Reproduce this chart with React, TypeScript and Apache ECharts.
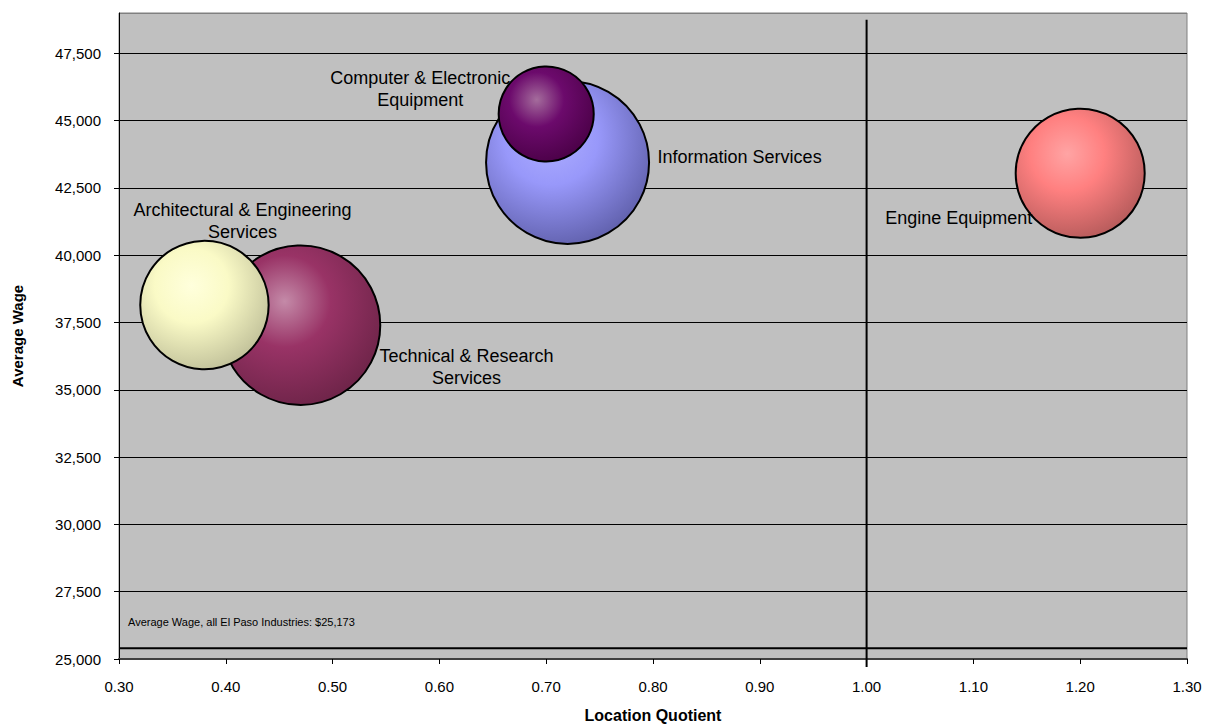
import React, { useEffect, useRef } from "react";
import * as echarts from "echarts";

const industries = [
  "Information Services",
  "Computer & Electronic\nEquipment",
  "Technical & Research\nServices",
  "Architectural & Engineering\nServices",
  "Engine Equipment",
];
const locationQuotient = [0.72, 0.7, 0.47, 0.38, 1.2];
const averageWage = [43450, 45250, 37400, 38150, 43050];
const bubbleSize = [6640, 2260, 6350, 4120, 4160];

const xTicks = { min: 0.3, max: 1.3, interval: 0.1 };
const yTicks = { min: 25000, max: 49000, interval: 2500 };
const avgWageLineValue = 25400;
const lqReference = 1.0;
const refLineYRange = [24700, 48750];
const footerText = "Average Wage, all El Paso Industries: $25,173";

const FONT = "'Liberation Sans', Arial, sans-serif";

const bubbleColors = [
  ["#aeaeff", "#9898fa", "#5c5ca6"],
  ["#a46c9c", "#6c0a6c", "#480044"],
  ["#c48aa8", "#993366", "#6a2346"],
  ["#ffffdc", "#fafac6", "#bcbc96"],
  ["#ffa4a4", "#ff8080", "#b05858"],
];

const labelStyles = [
  { offset: [90, -5], align: "left" },
  { offset: [-126, -25], align: "center" },
  { offset: [166, 42], align: "center" },
  { offset: [38, -84], align: "center" },
  { offset: [-195, 45], align: "left" },
];

export default function App() {
  const ref = useRef<HTMLDivElement>(null);
  useEffect(() => {
    if (!ref.current) return;
    document.body.style.margin = "0";
    const chart = echarts.init(ref.current, null, { renderer: "svg" });
    const maxSize = Math.max(...bubbleSize);
    const bubbleSeries = industries.map((name, i) => ({
      type: "scatter",
      name,
      z: 3,
      data: [[locationQuotient[i], averageWage[i], bubbleSize[i]]],
      symbolSize: (v: number[]) => Math.sqrt(v[2] / maxSize) * 163,
      itemStyle: {
        color: {
          type: "radial",
          x: 0.4,
          y: 0.35,
          r: 0.72,
          colorStops: [
            { offset: 0, color: bubbleColors[i][0] },
            { offset: 0.4, color: bubbleColors[i][1] },
            { offset: 1, color: bubbleColors[i][2] },
          ],
        },
        borderColor: "#000",
        borderWidth: 2,
        opacity: 1,
      },
      label: {
        show: true,
        position: "inside",
        formatter: name,
        offset: labelStyles[i].offset,
        align: labelStyles[i].align,
        verticalAlign: "middle",
        color: "#000",
        fontSize: 18,
        lineHeight: 22,
        fontFamily: FONT,
      },
    }));
    const splitColors = [] as string[];
    const nTicks = Math.floor((yTicks.max - yTicks.min) / yTicks.interval) + 1;
    for (let k = 0; k < nTicks; k++) splitColors.push("#000");
    splitColors.push("#808080");

    chart.setOption({
      animation: false,
      backgroundColor: "#ffffff",
      textStyle: { fontFamily: FONT },
      grid: {
        left: 119,
        right: 19,
        top: 13,
        bottom: 67,
        show: true,
        backgroundColor: "#C0C0C0",
        borderColor: "#808080",
        borderWidth: 1,
      },
      xAxis: {
        type: "value",
        min: xTicks.min,
        max: xTicks.max,
        interval: xTicks.interval,
        name: "Location Quotient",
        nameLocation: "middle",
        nameGap: 48,
        nameTextStyle: { fontWeight: "bold", fontSize: 16, color: "#000", fontFamily: FONT },
        axisLine: { show: true, onZero: false, lineStyle: { color: "#404040", width: 2 } },
        axisTick: { show: true, length: 5, lineStyle: { color: "#000" } },
        axisLabel: {
          formatter: (v: number) => v.toFixed(2),
          fontSize: 15,
          color: "#000",
          margin: 20,
          fontFamily: FONT,
        },
        splitLine: { show: false },
      },
      yAxis: {
        type: "value",
        min: yTicks.min,
        max: yTicks.max,
        interval: yTicks.interval,
        name: "Average Wage",
        nameLocation: "middle",
        nameGap: 94,
        nameRotate: 90,
        nameTextStyle: { fontWeight: "bold", fontSize: 15, color: "#000", fontFamily: FONT },
        axisLine: { show: true, lineStyle: { color: "#000", width: 1 } },
        axisTick: { show: true, length: 5, lineStyle: { color: "#000" } },
        axisLabel: {
          formatter: (v: number) =>
            (v - yTicks.min) % yTicks.interval === 0 ? v.toLocaleString("en-US") : "",
          showMaxLabel: false,
          fontSize: 15,
          color: "#000",
          margin: 18,
          fontFamily: FONT,
        },
        splitLine: { show: true, lineStyle: { color: splitColors, width: 1 } },
      },
      graphic: [
        {
          type: "text",
          left: 128,
          top: 616,
          style: { text: footerText, fontSize: 11, fill: "#000", fontFamily: FONT },
        },
      ],
      series: [
        {
          type: "line",
          z: 2,
          silent: true,
          clip: false,
          symbol: "none",
          data: [
            [xTicks.min, avgWageLineValue],
            [xTicks.max, avgWageLineValue],
          ],
          lineStyle: { color: "#000", width: 2 },
        },
        {
          type: "line",
          z: 2,
          silent: true,
          clip: false,
          symbol: "none",
          data: [
            [lqReference, refLineYRange[0]],
            [lqReference, refLineYRange[1]],
          ],
          lineStyle: { color: "#000", width: 2 },
        },
        ...bubbleSeries,
      ],
    });
    return () => chart.dispose();
  }, []);
  return <div ref={ref} style={{ width: 1206, height: 728 }} />;
}
